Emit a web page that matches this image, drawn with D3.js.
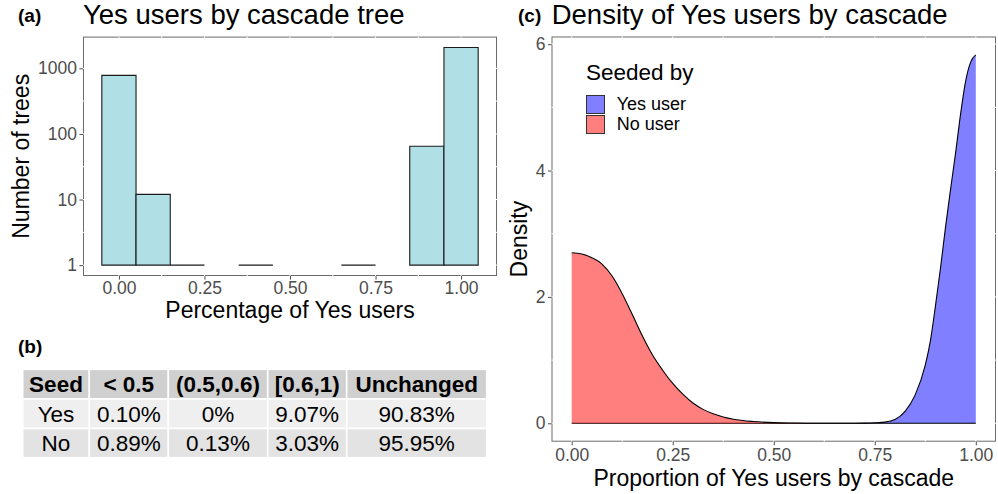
<!DOCTYPE html>
<html>
<head>
<meta charset="utf-8">
<script src="https://cdn.jsdelivr.net/npm/d3@7"></script>
<style>
  body { margin: 0; background: #fff; }
  svg { display: block; }
  text { font-family: "Liberation Sans", Arial, sans-serif; }
</style>
</head>
<body>
<div id="chart"></div>
<script>
// ---- data ----

// (a) histogram, bins of width 0.1
const binCenters = [0, 0.1, 0.2, 0.3, 0.4, 0.5, 0.6, 0.7, 0.8, 0.9, 1.0];
const treeCounts = [780, 12, 1, 0, 1, 0, 0, 1, 0, 65, 2080];
const binWidth = 0.1;
const pctTicks = [0, 0.25, 0.5, 0.75, 1];
const countTicks = [1, 10, 100, 1000];

// (b) table
const tableHeader = ["Seed", "< 0.5", "(0.5,0.6)", "[0.6,1)", "Unchanged"];
const tableYes = ["Yes", "0.10%", "0%", "9.07%", "90.83%"];
const tableNo = ["No", "0.89%", "0.13%", "3.03%", "95.95%"];

// (c) densities
const noX = [0, 0.025, 0.05, 0.075, 0.1, 0.125, 0.15, 0.175, 0.2, 0.225, 0.25, 0.275, 0.3,
             0.325, 0.35, 0.375, 0.4, 0.45, 0.5, 0.55, 0.6, 0.7, 0.8, 0.9, 1.0];
const noDensity = [2.70, 2.68, 2.62, 2.52, 2.33, 2.05, 1.72, 1.38, 1.08, 0.84, 0.63, 0.46, 0.32,
                   0.22, 0.15, 0.10, 0.065, 0.028, 0.010, 0.004, 0.001, 0, 0, 0, 0];
const yesX = [0, 0.5, 0.7, 0.725, 0.75, 0.775, 0.8, 0.825, 0.85, 0.875, 0.8875, 0.9, 0.9125,
              0.925, 0.9375, 0.95, 0.9625, 0.975, 0.9875, 1.0];
const yesDensity = [0, 0, 0.001, 0.003, 0.008, 0.018, 0.06, 0.19, 0.45, 0.92, 1.30, 1.85, 2.45,
                    3.10, 3.70, 4.28, 4.90, 5.42, 5.72, 5.83];
const propTicks = [0, 0.25, 0.5, 0.75, 1];
const densityTicks = [0, 2, 4, 6];
const seedLabels = ["Yes user", "No user"];
const seedColors = ["blue", "red"];

// ---- layout ----
const W = 998, H = 494;
const tickColor = "#4d4d4d";
const borderColor = "#6b6b6b";

const svg = d3.select("#chart").append("svg")
    .attr("width", W)
    .attr("height", H);

// ggplot style 5% expansion of a continuous range
function expand(lo, hi, mult = 0.05) {
    const pad = (hi - lo) * mult;
    return [lo - pad, hi + pad];
}

function styleAxis(g, size) {
    g.select(".domain").remove();
    g.selectAll(".tick line").attr("stroke", tickColor).attr("stroke-width", 1);
    g.selectAll(".tick text")
        .attr("fill", tickColor)
        .style("font-size", size + "px");
}

// ================= (a) histogram =================
const pa = { left: 83, right: 497, top: 36.6, bottom: 276 };

const xa = d3.scaleLinear()
    .domain(expand(binCenters[0] - binWidth / 2, binCenters[binCenters.length - 1] + binWidth / 2))
    .range([pa.left, pa.right]);

const logMax = Math.log10(d3.max(treeCounts));
const [la, lb] = expand(0, logMax);
const ya = d3.scaleLog()
    .domain([Math.pow(10, la), Math.pow(10, lb)])
    .range([pa.bottom, pa.top]);

const gA = svg.append("g");

gA.append("rect")
    .attr("x", pa.left + 0.5).attr("y", pa.top + 0.5)
    .attr("width", pa.right - pa.left - 1).attr("height", pa.bottom - pa.top - 1)
    .attr("fill", "#fff")
    .attr("stroke", borderColor);

// white grid lines (major + minor), they only show where they cross the border
const aMinorX = [0.125, 0.375, 0.625, 0.875];
const aMinorY = [Math.sqrt(10), Math.sqrt(1000), Math.sqrt(100000)];
gA.selectAll("line.gx")
    .data(pctTicks.concat(aMinorX))
    .join("line")
    .attr("x1", d => xa(d)).attr("x2", d => xa(d))
    .attr("y1", pa.top).attr("y2", pa.bottom)
    .attr("stroke", "#fff").attr("stroke-width", 1);
gA.selectAll("line.gy")
    .data(countTicks.concat(aMinorY))
    .join("line")
    .attr("y1", d => ya(d)).attr("y2", d => ya(d))
    .attr("x1", pa.left).attr("x2", pa.right)
    .attr("stroke", "#fff").attr("stroke-width", 1);

// bars start at 1 on the log scale; empty bins are dropped
const bins = binCenters.map((c, i) => ({ c, n: treeCounts[i] })).filter(d => d.n > 0);
gA.selectAll("path.bar")
    .data(bins)
    .join("path")
    .attr("class", "bar")
    .attr("d", d => {
        const p = d3.path();
        const x0 = xa(d.c - binWidth / 2), x1 = xa(d.c + binWidth / 2);
        p.moveTo(x0, ya(1));
        p.lineTo(x0, ya(d.n));
        p.lineTo(x1, ya(d.n));
        p.lineTo(x1, ya(1));
        p.closePath();
        return p.toString();
    })
    .attr("fill", "#b0e0e6")
    .attr("stroke", "#1a1a1a")
    .attr("stroke-width", 1.1);

gA.append("g")
    .attr("transform", `translate(0,${pa.bottom})`)
    .call(d3.axisBottom(xa).tickValues(pctTicks).tickFormat(d3.format(".2f")).tickSize(3.6).tickPadding(2))
    .call(g => styleAxis(g, 17.5));

gA.append("g")
    .attr("transform", `translate(${pa.left},0)`)
    .call(d3.axisLeft(ya).tickValues(countTicks).tickFormat(d3.format("d")).tickSize(3.6).tickPadding(2.5))
    .call(g => styleAxis(g, 17.5));

gA.append("text")
    .attr("x", (pa.left + pa.right) / 2).attr("y", 318)
    .attr("text-anchor", "middle")
    .style("font-size", "23px")
    .text("Percentage of Yes users");

gA.append("text")
    .attr("transform", `translate(29,${(pa.top + pa.bottom) / 2}) rotate(-90)`)
    .attr("text-anchor", "middle")
    .style("font-size", "23px")
    .text("Number of trees");

gA.append("text")
    .attr("x", 18).attr("y", 22)
    .style("font-size", "19px").style("font-weight", "bold")
    .text("(a)");

gA.append("text")
    .attr("x", 83).attr("y", 24)
    .style("font-size", "27.5px")
    .text("Yes users by cascade tree");

// ================= (b) table =================
const tb = { left: 22.7, top: 369.3 };
const colWidths = [66.6, 79, 99.4, 79, 140];
const rowHeights = [29.7, 29.5, 29.2];
const rowFills = ["#d0d0d0", "#efefef", "#e3e3e3"];
const colX = [tb.left];
colWidths.forEach(w => colX.push(colX[colX.length - 1] + w));
const rowY = [tb.top];
rowHeights.forEach(h => rowY.push(rowY[rowY.length - 1] + h));

const gB = svg.append("g");
gB.append("text")
    .attr("x", 18).attr("y", 353)
    .style("font-size", "19px").style("font-weight", "bold")
    .text("(b)");

const rows = [tableHeader, tableYes, tableNo];
rows.forEach((row, r) => {
    const gr = gB.append("g");
    gr.selectAll("rect")
        .data(row)
        .join("rect")
        .attr("x", (d, i) => colX[i])
        .attr("y", rowY[r])
        .attr("width", (d, i) => colWidths[i])
        .attr("height", rowHeights[r])
        .attr("fill", rowFills[r])
        .attr("stroke", "#fff")
        .attr("stroke-width", 1.6);
    gr.selectAll("text")
        .data(row)
        .join("text")
        .attr("x", (d, i) => colX[i] + colWidths[i] / 2)
        .attr("y", rowY[r] + rowHeights[r] / 2)
        .attr("dy", "0.36em")
        .attr("text-anchor", "middle")
        .style("font-size", "22.5px")
        .style("font-weight", r === 0 ? "bold" : "normal")
        .text(d => d);
});

// ================= (c) density =================
const pc = { left: 551.5, right: 996, top: 36.5, bottom: 441.7 };

const xc = d3.scaleLinear()
    .domain(expand(0, 1))
    .range([pc.left, pc.right]);
const yc = d3.scaleLinear()
    .domain(expand(0, d3.max(yesDensity.concat(noDensity))))
    .range([pc.bottom, pc.top]);

const gC = svg.append("g");
gC.append("rect")
    .attr("x", pc.left + 0.5).attr("y", pc.top + 0.5)
    .attr("width", pc.right - pc.left - 1).attr("height", pc.bottom - pc.top - 1)
    .attr("fill", "#fff")
    .attr("stroke", borderColor);

const cMinorX = [0.125, 0.375, 0.625, 0.875];
const cMinorY = [1, 3, 5];
gC.selectAll("line.gx")
    .data(propTicks.concat(cMinorX))
    .join("line")
    .attr("x1", d => xc(d)).attr("x2", d => xc(d))
    .attr("y1", pc.top).attr("y2", pc.bottom)
    .attr("stroke", "#fff").attr("stroke-width", 1);
gC.selectAll("line.gy")
    .data(densityTicks.concat(cMinorY))
    .join("line")
    .attr("y1", d => yc(d)).attr("y2", d => yc(d))
    .attr("x1", pc.left).attr("x2", pc.right)
    .attr("stroke", "#fff").attr("stroke-width", 1);

const area = d3.area()
    .x(d => xc(d[0]))
    .y0(yc(0))
    .y1(d => yc(d[1]))
    .curve(d3.curveMonotoneX);
const upper = d3.line()
    .x(d => xc(d[0]))
    .y(d => yc(d[1]))
    .curve(d3.curveMonotoneX);

const groups = [
    d3.zip(yesX, yesDensity),
    d3.zip(noX, noDensity)
];
groups.forEach((pts, i) => {
    gC.append("path")
        .attr("d", area(pts))
        .attr("fill", seedColors[i])
        .attr("fill-opacity", 0.5);
    gC.append("path")
        .attr("d", upper(pts))
        .attr("fill", "none")
        .attr("stroke", "#000")
        .attr("stroke-width", 1.1);
});

gC.append("g")
    .attr("transform", `translate(0,${pc.bottom})`)
    .call(d3.axisBottom(xc).tickValues(propTicks).tickFormat(d3.format(".2f")).tickSize(3.6).tickPadding(3.5))
    .call(g => styleAxis(g, 17.5));

gC.append("g")
    .attr("transform", `translate(${pc.left},0)`)
    .call(d3.axisLeft(yc).tickValues(densityTicks).tickFormat(d3.format("d")).tickSize(3.6).tickPadding(2.5))
    .call(g => styleAxis(g, 17.5));

gC.append("text")
    .attr("x", xc(0.5)).attr("y", 485.5)
    .attr("text-anchor", "middle")
    .style("font-size", "23px")
    .text("Proportion of Yes users by cascade");

gC.append("text")
    .attr("transform", `translate(527,${(pc.top + pc.bottom) / 2}) rotate(-90)`)
    .attr("text-anchor", "middle")
    .style("font-size", "23px")
    .text("Density");

gC.append("text")
    .attr("x", 518).attr("y", 22)
    .style("font-size", "19px").style("font-weight", "bold")
    .text("(c)");

gC.append("text")
    .attr("x", 551.7).attr("y", 24)
    .style("font-size", "27.5px")
    .text("Density of Yes users by cascade");

// legend
const lg = gC.append("g").attr("transform", "translate(586,0)");
lg.append("text")
    .attr("x", 0).attr("y", 80)
    .style("font-size", "22.5px")
    .text("Seeded by");
const keys = lg.selectAll("g.key")
    .data(seedLabels)
    .join("g")
    .attr("class", "key")
    .attr("transform", (d, i) => `translate(0,${95 + i * 20})`);
keys.append("rect")
    .attr("x", 0.5).attr("y", 0.5)
    .attr("width", 18).attr("height", 18)
    .attr("fill", (d, i) => seedColors[i])
    .attr("fill-opacity", 0.5)
    .attr("stroke", "#333")
    .attr("stroke-width", 1);
keys.append("text")
    .attr("x", 30.7).attr("y", 15)
    .style("font-size", "18px")
    .text(d => d);
</script>
</body>
</html>
